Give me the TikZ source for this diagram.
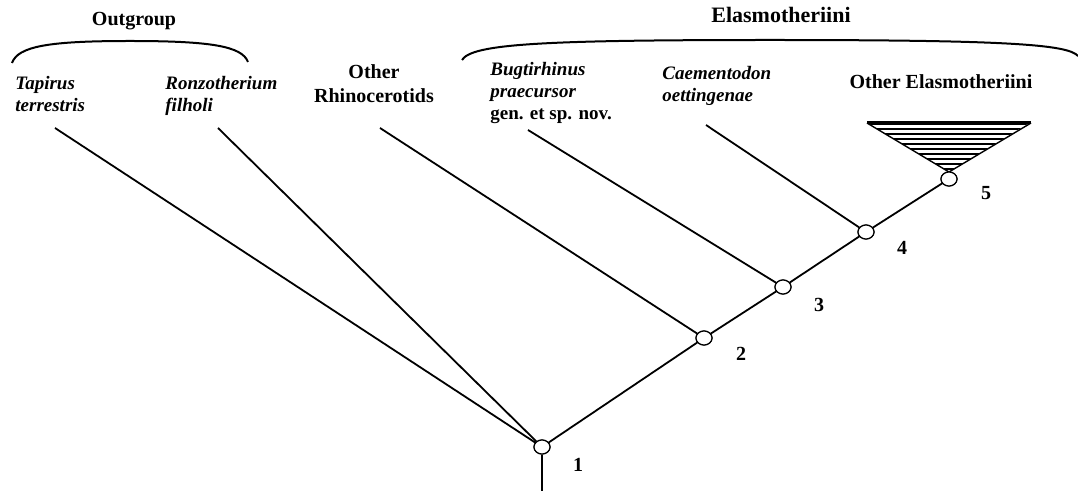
\documentclass[tikz,border=0pt]{standalone}
\usepackage{fontspec}
\setmainfont{Liberation Serif}
\usetikzlibrary{shapes.geometric}
\tikzstyle{hub} = [ellipse, draw=black, fill=white, line width=0.6pt, minimum width=8pt, minimum height=7pt, inner sep=0pt]
\tikzstyle{taxon} = [align=left, anchor=north west, inner sep=0pt, font=\fontsize{9.5}{11}\selectfont\bfseries\itshape]
\tikzstyle{clade} = [align=center, inner sep=0pt, font=\fontsize{10}{12}\selectfont\bfseries]
\tikzstyle{num} = [inner sep=0pt, font=\fontsize{10}{12}\selectfont\bfseries]
\tikzstyle{branch} = [line width=0.9pt]
\tikzstyle{brace} = [line width=1pt]

\begin{document}
\begin{tikzpicture}[x=0.5pt, y=-0.5pt]
\useasboundingbox (0,0) rectangle (1078,491);
\node (outgroup) [clade, anchor=north] at (134,12) {Outgroup};
\node (elasmo) [clade, anchor=north, font=\fontsize{11}{13}\selectfont\bfseries] at (781,7) {Elasmotheriini};
\draw [brace] (12,63) .. controls (18,46) and (50,41) .. (130,41) .. controls (210,41) and (242,46) .. (248,62);
\draw [brace] (462,60) .. controls (472,44) and (540,40) .. (770,40) .. controls (1000,40) and (1068,44) .. (1078,56);
\node (tapirus) [taxon] at (15,76) {Tapirus\\terrestris};
\node (ronzo) [taxon] at (165,76) {Ronzotherium\\filholi};
\node (rhino) [clade, anchor=north] at (374,64) {Other\\Rhinocerotids};
\node (bugti) [taxon] at (490,62) {Bugtirhinus\\praecursor\\{\upshape gen. et sp. nov.}};
\node (caem) [taxon] at (662,66) {Caementodon\\oettingenae};
\node (otherel) [clade, anchor=north] at (941,74) {Other Elasmotheriini};
\coordinate (tTapirus) at (55,128);
\coordinate (tRonzo) at (218,128);
\coordinate (tRhino) at (380,128);
\coordinate (tBugti) at (528,130);
\coordinate (tCaem) at (706,125);
\coordinate (root) at (542,491);
\node (n1) [hub] at (542,447) {};
\node (n2) [hub] at (704,338) {};
\node (n3) [hub] at (783,287) {};
\node (n4) [hub] at (866,232) {};
\node (n5) [hub] at (949,179) {};
\begin{scope}
\clip (866,122) -- (1031,122) -- (949,172) -- cycle;
\foreach \y in {124,129,...,174}
  \draw [line width=1pt] (860,\y) -- (1035,\y);
\end{scope}
\draw [line width=0.7pt] (867,123) -- (949,172) -- (1031,123);
\draw [line width=1.5pt] (867,123) -- (1031,123);
\draw [branch] (tTapirus) -- (n1);
\draw [branch] (tRonzo) -- (n1);
\draw [branch] (tRhino) -- (n2);
\draw [branch] (tBugti) -- (n3);
\draw [branch] (tCaem) -- (n4);
\draw [branch] (n1) -- (n2);
\draw [branch] (n2) -- (n3);
\draw [branch] (n3) -- (n4);
\draw [branch] (n4) -- (n5);
\draw [branch] (n1) -- (root);
\node (n1) [hub] at (542,447) {};
\node (n2) [hub] at (704,338) {};
\node (n3) [hub] at (783,287) {};
\node (n4) [hub] at (866,232) {};
\node (n5) [hub] at (949,179) {};
\node (l1) [num] at (578,465) {1};
\node (l2) [num] at (741,354) {2};
\node (l3) [num] at (819,305) {3};
\node (l4) [num] at (902,248) {4};
\node (l5) [num] at (986,193) {5};
\end{tikzpicture}
\end{document}
